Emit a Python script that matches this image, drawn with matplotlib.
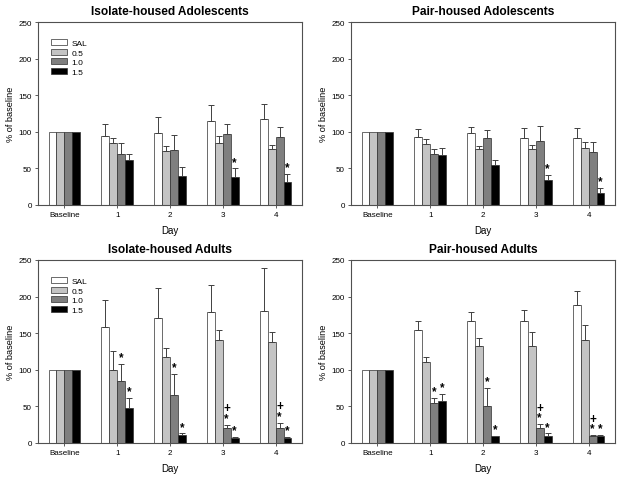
import matplotlib
matplotlib.use("Agg")
import matplotlib.pyplot as plt
import numpy as np

plt.rcParams['font.family'] = ['Liberation Sans', 'DejaVu Sans']

groups = ['Baseline', '1', '2', '3', '4']
doses = ['SAL', '0.5', '1.0', '1.5']
colors = ['white', '#c4c4c4', '#7f7f7f', 'black']

titles = ['Isolate-housed Adolescents', 'Pair-housed Adolescents',
          'Isolate-housed Adults', 'Pair-housed Adults']

# means[panel][dose][group]
iso_adol_mean = [[100, 94, 99, 115, 118],
                 [100, 85, 74, 85, 76],
                 [100, 70, 75, 97, 93],
                 [100, 62, 40, 38, 32]]
iso_adol_top = [[100, 110, 120, 136, 138],
                [100, 92, 81, 94, 82],
                [100, 85, 96, 111, 107],
                [100, 69, 52, 50, 43]]
pair_adol_mean = [[100, 93, 99, 92, 92],
                  [100, 83, 76, 77, 78],
                  [100, 69, 91, 88, 73],
                  [100, 68, 54, 34, 16]]
pair_adol_top = [[100, 104, 106, 105, 105],
                 [100, 90, 81, 82, 86],
                 [100, 76, 103, 108, 86],
                 [100, 78, 61, 41, 23]]
iso_adult_mean = [[100, 158, 171, 179, 180],
                  [100, 100, 117, 141, 138],
                  [100, 85, 65, 20, 20],
                  [100, 48, 11, 7, 7]]
iso_adult_top = [[100, 195, 212, 216, 239],
                 [100, 126, 130, 154, 152],
                 [100, 108, 94, 25, 28],
                 [100, 61, 13, 8, 8]]
pair_adult_mean = [[100, 155, 166, 167, 189],
                   [100, 110, 133, 133, 141],
                   [100, 54, 50, 20, 10],
                   [100, 57, 10, 10, 10]]
pair_adult_top = [[100, 166, 179, 182, 207],
                  [100, 118, 143, 152, 161],
                  [100, 62, 75, 26, 11],
                  [100, 67, 10, 13, 11]]

# annotations: (dose index, group index, text)
iso_adol_marks = [(3, 3, '*'), (3, 4, '*')]
pair_adol_marks = [(3, 3, '*'), (3, 4, '*')]
iso_adult_marks = [(2, 1, '*'), (3, 1, '*'), (2, 2, '*'), (3, 2, '*'),
                   (2, 3, '+\n*'), (3, 3, '*'), (2, 4, '+\n*'), (3, 4, '*')]
pair_adult_marks = [(2, 1, '*'), (3, 1, '*'), (2, 2, '*'), (3, 2, '*'),
                    (2, 3, '+\n*'), (3, 3, '*'), (2, 4, '+\n*'), (3, 4, '*')]

panels = [(iso_adol_mean, iso_adol_top, iso_adol_marks),
          (pair_adol_mean, pair_adol_top, pair_adol_marks),
          (iso_adult_mean, iso_adult_top, iso_adult_marks),
          (pair_adult_mean, pair_adult_top, pair_adult_marks)]

W, H = 621, 481
fig = plt.figure(figsize=(W / 100, H / 100), dpi=100)
rects = [(38, 23), (351, 23), (38, 261), (351, 261)]
aw, ah = 264, 183

bw = 0.15
x = np.arange(len(groups))
edge = '#303030'

for i, ((means, tops, marks), (lx, ty)) in enumerate(zip(panels, rects)):
    ax = fig.add_axes([lx / W, (H - ty - ah) / H, aw / W, ah / H])
    for d in range(4):
        m = np.array(means[d], dtype=float)
        t = np.array(tops[d], dtype=float)
        err = np.clip(t - m, 0, None)
        xs = x + (d - 1.5) * bw
        ax.bar(xs, m, bw, color=colors[d], edgecolor=edge, linewidth=0.5,
               label=doses[d], zorder=2)
        has = err > 0
        ax.errorbar(xs[has], m[has], yerr=[np.zeros(has.sum()), err[has]],
                    fmt='none', ecolor='#404040', elinewidth=0.7, capsize=2.5,
                    capthick=0.7, zorder=3)
    for d, g, txt in marks:
        xs = x[g] + (d - 1.5) * bw
        ax.annotate(txt, (xs, tops[d][g]), xytext=(0, 0.5),
                    textcoords='offset points', ha='center', va='bottom',
                    fontsize=8.5, fontweight='bold', linespacing=0.75)
    ax.set_xlim(-0.5, 4.5)
    ax.set_ylim(0, 250)
    ax.set_yticks([0, 50, 100, 150, 200, 250])
    ax.set_xticks(x)
    ax.set_xticklabels(groups)
    ax.tick_params(labelsize=5.8, length=2.2, width=0.6, color='#404040',
                   pad=2.2)
    for s in ax.spines.values():
        s.set_linewidth(0.8)
        s.set_color('#505050')
    ax.set_xlabel('Day', fontsize=7, labelpad=5)
    ax.set_ylabel('% of baseline', fontsize=6.6, labelpad=2.5)
    ax.set_title(titles[i], fontsize=8.6, fontweight='bold', pad=6)
    if i in (0, 2):
        ax.legend(loc='upper left', bbox_to_anchor=(0.035, 0.93),
                  frameon=False, fontsize=6, handlelength=1.9,
                  handleheight=0.75, labelspacing=0.2, borderpad=0,
                  handletextpad=0.5)

fig.savefig('out.png', dpi=100)
